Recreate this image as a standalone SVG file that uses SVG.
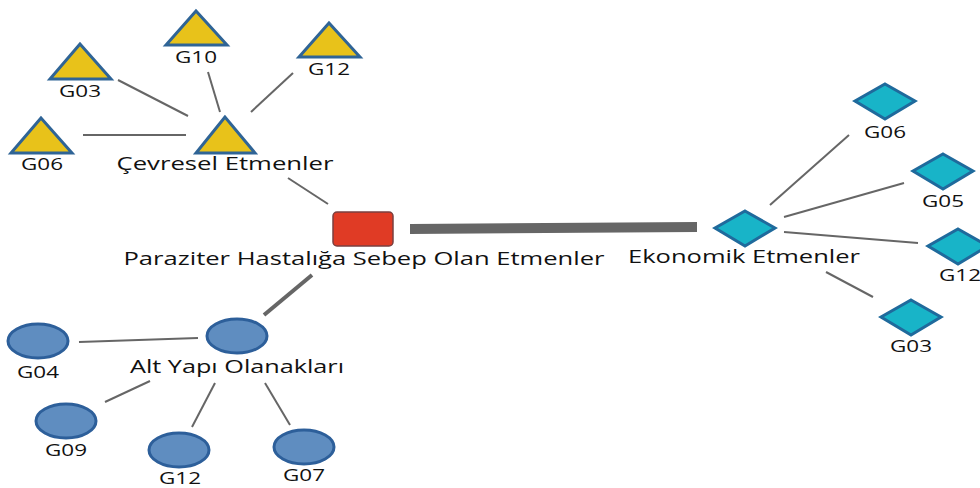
<svg xmlns="http://www.w3.org/2000/svg" width="980" height="488" viewBox="0 0 980 488">
<style>
  text { font-family: "Open Sans", "Liberation Sans", sans-serif; fill: #111; text-anchor: middle; }
  .big { font-size: 19px; }
  .sm { font-size: 17px; }
  .tri { fill: #E8C21A; stroke: #2F6496; stroke-width: 3; stroke-linejoin: miter; }
  .dia { fill: #18B4C8; stroke: #1F6A9C; stroke-width: 3; }
  .ell { fill: #5F8DC0; stroke: #2D5F9A; stroke-width: 3; }
  .ln { stroke: #666; stroke-width: 2; fill: none; }
  .thick { stroke: #666; stroke-width: 4; fill: none; }
</style>
<rect width="980" height="488" fill="#fff"/>
<g id="connectors">
  <line class="ln" x1="118" y1="80" x2="188" y2="116"/>
  <line class="ln" x1="208" y1="72" x2="220" y2="112"/>
  <line class="ln" x1="293" y1="73" x2="251" y2="112"/>
  <line class="ln" x1="83" y1="135" x2="186" y2="135"/>
  <line class="ln" x1="288" y1="178" x2="328" y2="204"/>
  <polygon points="410,224 697,222 697,232 410,234" fill="#666"/>
  <line class="thick" x1="312" y1="275" x2="264" y2="315"/>
  <line class="ln" x1="79" y1="342" x2="198" y2="338"/>
  <line class="ln" x1="105" y1="402" x2="150" y2="381"/>
  <line class="ln" x1="192" y1="427" x2="215" y2="383"/>
  <line class="ln" x1="290" y1="425" x2="265" y2="383"/>
  <line class="ln" x1="770" y1="205" x2="849" y2="135"/>
  <line class="ln" x1="784" y1="217" x2="904" y2="183"/>
  <line class="ln" x1="784" y1="232" x2="918" y2="243"/>
  <line class="ln" x1="826" y1="272" x2="873" y2="297"/>
</g>
<g id="cevresel">
  <polygon class="tri" points="225,117 196,153 255,153"/>
  <text class="big" x="225" y="170" textLength="217" lengthAdjust="spacingAndGlyphs">Çevresel Etmenler</text>
</g>
<g id="cev-g10">
  <polygon class="tri" points="196,11 166,45 227,45"/>
  <text class="sm" x="196" y="63" textLength="42" lengthAdjust="spacingAndGlyphs">G10</text>
</g>
<g id="cev-g03">
  <polygon class="tri" points="80,44 50,79 111,79"/>
  <text class="sm" x="80" y="97" textLength="42" lengthAdjust="spacingAndGlyphs">G03</text>
</g>
<g id="cev-g12">
  <polygon class="tri" points="329,23 299,57 360,57"/>
  <text class="sm" x="329" y="75" textLength="42" lengthAdjust="spacingAndGlyphs">G12</text>
</g>
<g id="cev-g06">
  <polygon class="tri" points="41,118 11,153 72,153"/>
  <text class="sm" x="42" y="170" textLength="42" lengthAdjust="spacingAndGlyphs">G06</text>
</g>
<g id="paraziter">
  <rect x="333" y="212" width="60" height="34" rx="4" fill="#E03B25" stroke="#7A4040" stroke-width="1.5"/>
  <text class="big" x="364" y="265" textLength="481" lengthAdjust="spacingAndGlyphs">Paraziter Hastalığa Sebep Olan Etmenler</text>
</g>
<g id="ekonomik">
  <polygon class="dia" points="745,211 775,228 745,246 715,228"/>
  <text class="big" x="744" y="263" textLength="232" lengthAdjust="spacingAndGlyphs">Ekonomik Etmenler</text>
</g>
<g id="eko-g06">
  <polygon class="dia" points="885,84 915,101 885,119 855,101"/>
  <text class="sm" x="885" y="138" textLength="42" lengthAdjust="spacingAndGlyphs">G06</text>
</g>
<g id="eko-g05">
  <polygon class="dia" points="943,154 973,171 943,189 913,171"/>
  <text class="sm" x="943" y="207" textLength="42" lengthAdjust="spacingAndGlyphs">G05</text>
</g>
<g id="eko-g12">
  <polygon class="dia" points="958,229 988,246 958,264 928,246"/>
  <text class="sm" x="960" y="281" textLength="42" lengthAdjust="spacingAndGlyphs">G12</text>
</g>
<g id="eko-g03">
  <polygon class="dia" points="911,300 941,317 911,335 881,317"/>
  <text class="sm" x="911" y="352" textLength="42" lengthAdjust="spacingAndGlyphs">G03</text>
</g>
<g id="altyapi">
  <ellipse class="ell" cx="237" cy="336" rx="30" ry="17"/>
  <text class="big" x="237" y="373" textLength="214" lengthAdjust="spacingAndGlyphs">Alt Yapı Olanakları</text>
</g>
<g id="alt-g04">
  <ellipse class="ell" cx="38" cy="341" rx="30" ry="17"/>
  <text class="sm" x="38" y="378" textLength="42" lengthAdjust="spacingAndGlyphs">G04</text>
</g>
<g id="alt-g09">
  <ellipse class="ell" cx="66" cy="421" rx="30" ry="17"/>
  <text class="sm" x="66" y="456" textLength="42" lengthAdjust="spacingAndGlyphs">G09</text>
</g>
<g id="alt-g12">
  <ellipse class="ell" cx="179" cy="450" rx="30" ry="17"/>
  <text class="sm" x="180" y="484" textLength="42" lengthAdjust="spacingAndGlyphs">G12</text>
</g>
<g id="alt-g07">
  <ellipse class="ell" cx="304" cy="447" rx="30" ry="17"/>
  <text class="sm" x="304" y="481" textLength="42" lengthAdjust="spacingAndGlyphs">G07</text>
</g>
</svg>
